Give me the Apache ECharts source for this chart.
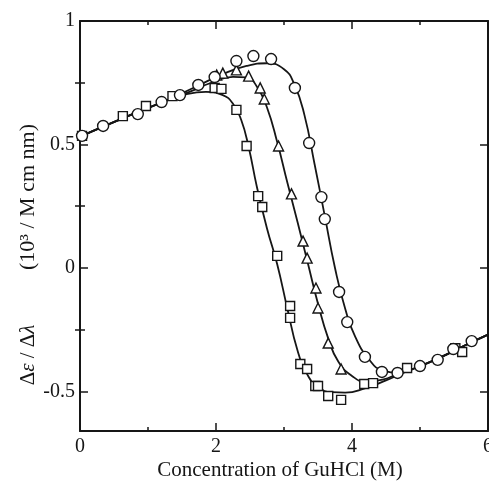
<!DOCTYPE html>
<html>
<head>
<meta charset="utf-8">
<script src="https://cdn.jsdelivr.net/npm/echarts@6/dist/echarts.min.js"></script>
<style>html,body{margin:0;padding:0;background:#fff;}#c{width:489px;height:482px;}</style>
</head>
<body>
<div id="c"></div>
<script>
// ---- data ----
const circlePoints = [[0.03,0.535],[0.34,0.575],[0.85,0.623],[1.20,0.672],[1.47,0.700],[1.74,0.741],[1.98,0.773],[2.30,0.838],[2.55,0.858],[2.81,0.846],[3.16,0.729],[3.37,0.506],[3.55,0.287],[3.60,0.198],[3.81,-0.097],[3.93,-0.219],[4.19,-0.360],[4.44,-0.421],[4.67,-0.425],[5.00,-0.397],[5.26,-0.372],[5.49,-0.328],[5.76,-0.296]];
const trianglePoints = [[2.01,0.781],[2.10,0.789],[2.30,0.802],[2.48,0.777],[2.65,0.729],[2.71,0.684],[2.92,0.494],[3.11,0.300],[3.28,0.109],[3.34,0.040],[3.47,-0.081],[3.50,-0.162],[3.65,-0.304],[3.84,-0.409]];
const squarePoints = [[0.03,0.535],[0.63,0.615],[0.97,0.656],[1.36,0.696],[1.98,0.729],[2.08,0.725],[2.30,0.640],[2.45,0.494],[2.62,0.291],[2.68,0.247],[2.90,0.049],[3.09,-0.154],[3.09,-0.202],[3.24,-0.389],[3.34,-0.409],[3.46,-0.478],[3.50,-0.478],[3.65,-0.518],[3.84,-0.534],[4.18,-0.470],[4.31,-0.466],[4.81,-0.405],[5.52,-0.325],[5.62,-0.340]];

const circleCurve = [[0,0.532],[0.6,0.603],[1.2,0.670],[1.75,0.740],[2.1,0.785],[2.45,0.818],[2.75,0.829],[3.0,0.805],[3.15,0.745],[3.3,0.620],[3.45,0.420],[3.6,0.210],[3.75,0.000],[3.9,-0.165],[4.05,-0.280],[4.25,-0.370],[4.45,-0.415],[4.7,-0.424],[4.95,-0.403],[5.3,-0.362],[5.65,-0.315],[6.0,-0.270]];
const triangleCurve = [[0,0.532],[0.6,0.603],[1.2,0.670],[1.6,0.712],[1.95,0.752],[2.25,0.774],[2.45,0.772],[2.6,0.735],[2.75,0.650],[2.9,0.510],[3.05,0.345],[3.2,0.185],[3.35,0.020],[3.5,-0.145],[3.65,-0.285],[3.8,-0.380],[4.0,-0.437],[4.2,-0.460],[4.45,-0.452],[4.7,-0.426],[4.95,-0.403],[5.3,-0.362],[5.65,-0.315],[6.0,-0.270]];
const squareCurve = [[0,0.532],[0.6,0.603],[1.2,0.670],[1.55,0.702],[1.85,0.713],[2.1,0.700],[2.25,0.665],[2.37,0.600],[2.48,0.490],[2.6,0.330],[2.75,0.160],[2.9,0.015],[3.05,-0.165],[3.2,-0.335],[3.35,-0.435],[3.5,-0.482],[3.7,-0.503],[3.9,-0.505],[4.2,-0.486],[4.5,-0.455],[4.75,-0.425],[4.95,-0.403],[5.3,-0.362],[5.65,-0.315],[6.0,-0.270]];

const yMajorTicks = [-0.5, 0, 0.5, 1];
const yMinorTicks = [-0.25, 0.25, 0.75];
const yLabelText = {'-0.5':'-0.5','0':'0','0.5':'0.5','1':'1'};
const xTitle = 'Concentration of GuHCl (M)';
const yTitleA = 'Δ{i|ε} / Δ{i|λ}';
const yTitleB = '(10³ / M cm nm)';

// ---- chart ----
const SERIF = '"Liberation Serif", "DejaVu Serif", serif';
const INK = '#161616';
const chart = echarts.init(document.getElementById('c'), null, {renderer:'canvas'});
const lineAx = {show:true, onZero:false, lineStyle:{color:INK, width:2}};
function xAx(pos, labels){
  return {type:'value', position:pos, min:0, max:6, interval:2,
    axisLine:lineAx, splitLine:{show:false},
    axisTick:{show:true, inside:true, length:8, lineStyle:{color:INK, width:1.5}},
    minorTick:{show:true, splitNumber:2, length:4, lineStyle:{color:INK, width:1.5}},
    axisLabel:{show:labels, margin:6, color:INK, fontFamily:SERIF, fontSize:20}};
}
function yAx(pos, ticks, len, labels, showLine){
  return {type:'value', position:pos, min:-0.66, max:1,
    axisLine:showLine ? lineAx : {show:false}, splitLine:{show:false},
    axisTick:{show:true, inside:true, length:len, customValues:ticks, lineStyle:{color:INK, width:1.5}},
    axisLabel:{show:labels, customValues:ticks, margin:5, color:INK, fontFamily:SERIF, fontSize:20,
      formatter:function(v){ const k = String(Math.round(v*100)/100); return yLabelText[k] !== undefined ? yLabelText[k] : ''; }}};
}
function curve(data){
  return {type:'line', data:data, xAxisIndex:0, yAxisIndex:0, showSymbol:false, smooth:0.5,
    lineStyle:{color:INK, width:1.8}, silent:true, z:2};
}
function pts(data, symbol, size){
  return {type:'scatter', data:data, xAxisIndex:0, yAxisIndex:0, symbol:symbol, symbolSize:size,
    itemStyle:{color:'#fff', borderColor:INK, borderWidth:1.4, opacity:1}, z:3};
}
chart.setOption({
  animation:false,
  backgroundColor:'#fff',
  grid:{left:80, right:1, top:21, bottom:51, containLabel:false, outerBoundsMode:'none'},
  xAxis:[xAx('bottom', true), xAx('top', false)],
  yAxis:[yAx('left', yMajorTicks, 8, true, true), yAx('left', yMinorTicks, 5, false, false),
         yAx('right', yMajorTicks, 8, false, true), yAx('right', yMinorTicks, 5, false, false)],
  series:[curve(circleCurve), curve(triangleCurve), curve(squareCurve),
          pts(squarePoints, 'rect', 9), pts(trianglePoints, 'triangle', 10), pts(circlePoints, 'circle', 11)],
  graphic:[
    {type:'text', x:280, y:470, style:{text:xTitle, fill:INK, font:'21px ' + SERIF, textAlign:'center', textVerticalAlign:'middle'}},
    {type:'text', x:28, y:355, rotation:Math.PI/2, style:{text:yTitleA, fill:INK, font:'21px ' + SERIF, textAlign:'center', textVerticalAlign:'middle',
      rich:{i:{fontStyle:'italic', fontFamily:SERIF, fontSize:21, fill:INK}}}},
    {type:'text', x:28, y:197, rotation:Math.PI/2, style:{text:yTitleB, fill:INK, font:'22px ' + SERIF, textAlign:'center', textVerticalAlign:'middle'}}
  ]
});
</script>
</body>
</html>
